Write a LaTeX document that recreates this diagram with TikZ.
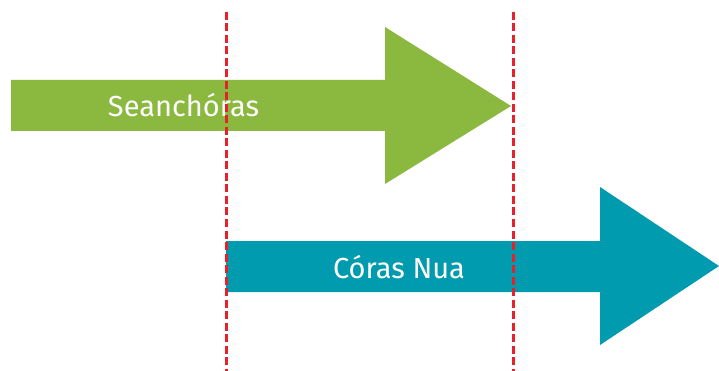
\documentclass[tikz,border=0pt]{standalone}
\usepackage{fontspec}
\setmainfont{Fira Sans}
\definecolor{agreen}{HTML}{8BB83F}
\definecolor{ablue}{HTML}{009BAE}
\definecolor{ared}{HTML}{E8202A}
\begin{document}
\begin{tikzpicture}[x=1pt,y=-1pt,
  lbl/.style={text=white,font=\fontsize{29}{33}\selectfont,inner sep=0pt},
  guide/.style={draw=ared,line width=2.4pt,dash pattern=on 8pt off 3.5pt}]
\useasboundingbox (0,0) rectangle (719,371);
\fill[agreen] (11,80) -- (385,80) -- (385,27) -- (511,106) -- (385,184) -- (385,131) -- (11,131) -- cycle;
\fill[ablue] (226,241) -- (600,241) -- (600,187) -- (719,266) -- (600,345) -- (600,292) -- (226,292) -- cycle;
\node[lbl] (s) at (183.5,105) {Seanchóras};
\node[lbl] (c) at (399,267) {Córas Nua};
\coordinate (l1) at (226.5,12);
\coordinate (l2) at (226.5,371);
\coordinate (r1) at (513.5,12);
\coordinate (r2) at (513.5,371);
\draw[guide] (l1) -- (l2);
\draw[guide] (r1) -- (r2);
\end{tikzpicture}
\end{document}
